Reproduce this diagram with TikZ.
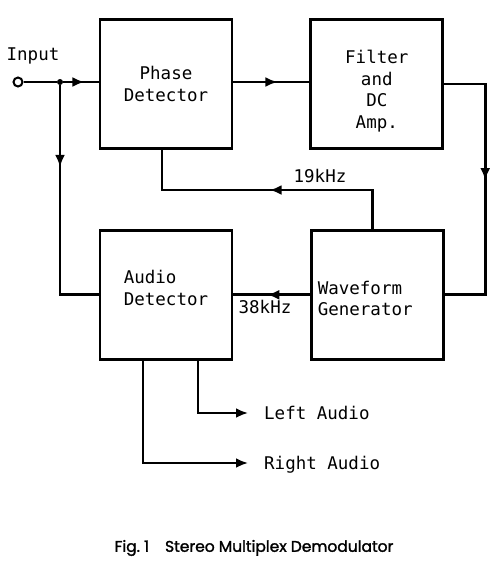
\documentclass[tikz,border=0pt]{standalone}
\usepackage{fontspec}
\newfontfamily\typefont{DejaVu Sans Mono}
\newfontfamily\capfont[FakeBold=1.6]{Poppins}
\newcommand{\boxfont}{\typefont\fontsize{17.5}{21.5}\selectfont}
\usetikzlibrary{positioning, arrows.meta, decorations.markings}

\begin{document}
\begin{tikzpicture}[x=1pt, y=-1pt,
    block/.style = {draw, line width=2.8pt, minimum width=132pt,
                    minimum height=129pt, inner sep=0pt, font=\boxfont},
    tag/.style = {inner sep=2pt, font=\boxfont},
    dot/.style = {circle, fill, minimum size=#1,
                  inner sep=0pt, outer sep=0pt},
    dot/.default = 6pt,
    ring/.style = {circle, draw, line width=2pt, fill=white,
                   minimum size=9pt, inner sep=0pt},
    midarrow/.style = {postaction={decorate}, decoration={markings,
                       mark=at position #1 with {\arrow{Latex[length=12pt,width=10pt]}}}}
    ]
            % styles
            \tikzstyle{wire} = [line width=2.8pt, line join=miter]
            \tikzstyle{outarrow} = [wire, -{Latex[length=12pt,width=10pt]}, shorten >=14pt]

            \useasboundingbox (0,0) rectangle (500,566);

            % blocks
            \node (phase) [block, align=center] at (166,84) {Phase\\Detector};
            \node (filter) [block, align=center, text height=92pt, right=76pt of phase] {Filter\\and\\DC\\Amp.};
            \node (audio) [block, align=left, text depth=14pt, below=79pt of phase] {Audio\\Detector};
            \node (wave) [block, align=left, text width=120pt, text depth=14pt, right=77pt of audio] {Waveform\\Generator};

            % input
            \node (inp) [ring] at (18,82) {};
            \node (inlabel) [tag, anchor=south] at (33,66) {Input};
            \node (jn) [dot] at (60,82) {};

            % corners
            \coordinate (fr) at ([xshift=41pt]filter.east);
            \coordinate (t19) at (162,190);

            % labels
            \node (f19) [tag, anchor=south] at (320,185) {19kHz};
            \node (f38) [tag, anchor=north] at (265,298) {38kHz};
            \node (lout) [tag, anchor=west, text height=12.5pt, text depth=0pt] at (262,413) {Left Audio};
            \node (rout) [tag, anchor=west, text height=12.5pt, text depth=0pt] at (262,463) {Right Audio};

            \node (caption) [font=\capfont\fontsize{15.5}{18}\selectfont] at (254,548) {Fig.~1\hspace{16pt}Stereo Multiplex Demodulator};

            % connectors
            \draw [wire] (inp) -- (jn);
            \draw [wire, midarrow=0.6] (jn) -- (jn -| phase.west);
            \draw [wire, midarrow=0.58] (jn -| phase.east) -- (jn -| filter.west);
            \draw [wire, midarrow=0.47] (filter.east) -- (fr) -- (fr |- wave.east) -- (wave.east);
            \draw [wire, midarrow=0.49] ([xshift=-5pt]wave.north) |- (t19) -- (t19 |- phase.south);
            \draw [wire, midarrow=0.56] (wave.west) -- (audio.east);
            \draw [wire, midarrow=0.33] (jn) |- (audio.west);
            \draw [outarrow] ([xshift=32pt]audio.south) |- (lout.west);
            \draw [outarrow] ([xshift=-23pt]audio.south) |- (rout.west);
    \end{tikzpicture}
\end{document}
